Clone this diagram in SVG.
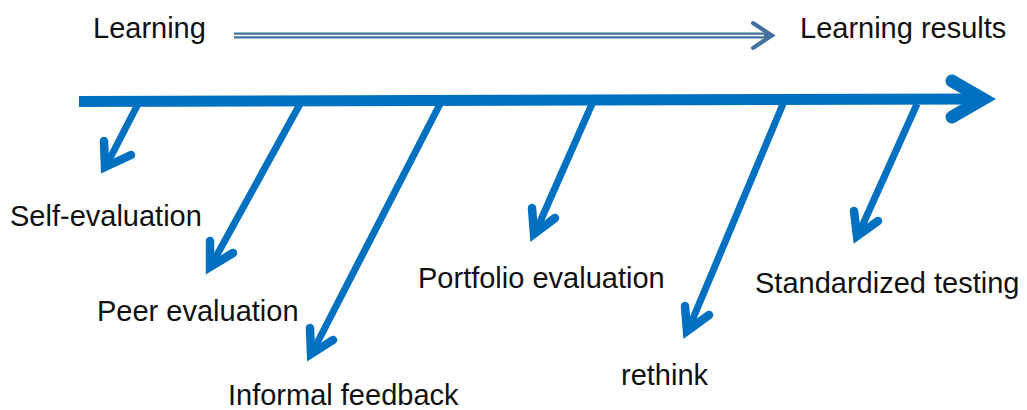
<svg xmlns="http://www.w3.org/2000/svg" width="1027" height="410" viewBox="0 0 1027 410">
  <style>
    .lbl { font-family: "Liberation Sans", Arial, sans-serif; font-size: 29px; fill: #111; }
    .spine { stroke: #0070C0; stroke-width: 11; fill: none; }
    .spine-head { stroke: #0070C0; stroke-width: 13; fill: none; stroke-linecap: round; stroke-linejoin: miter; stroke-miterlimit: 10; }
    .bone { stroke: #0070C0; stroke-width: 7; fill: none; }
    .bone-head { stroke: #0070C0; stroke-width: 8.5; fill: none; stroke-linecap: round; stroke-linejoin: miter; stroke-miterlimit: 10; }
    .flow { stroke: #41719C; fill: none; }
  </style>
  <rect width="1027" height="410" fill="#ffffff"/>

  <!-- Learning → Learning results -->
  <g id="flow-arrow">
    <line class="flow" x1="234" y1="35.5" x2="768" y2="35.5" stroke-width="6"/>
    <line x1="234" y1="35.5" x2="764" y2="35.5" stroke="#ffffff" stroke-width="1.6"/>
    <polyline class="flow" points="753,23 772,35.5 753,48" stroke-width="4" stroke-linecap="round" stroke-linejoin="miter"/>
  </g>

  <g id="connectors">
    <!-- main spine -->
    <line class="spine" x1="79" y1="101.5" x2="980" y2="99"/>
    <polyline class="spine-head" points="952,81 983,99 952,117"/>

    <!-- branches -->
    <line class="bone" x1="138" y1="104" x2="107" y2="164"/>
    <polyline class="bone-head" points="104,141 105,167 131,155"/>

    <line class="bone" x1="300" y1="104" x2="212" y2="264"/>
    <polyline class="bone-head" points="210,241 210,267 233,253"/>

    <line class="bone" x1="440" y1="104" x2="313" y2="351"/>
    <polyline class="bone-head" points="310,328 311,354 333,340"/>

    <line class="bone" x1="592" y1="104" x2="536" y2="231"/>
    <polyline class="bone-head" points="532,208 534,234 555,218"/>

    <line class="bone" x1="783" y1="104" x2="689" y2="328"/>
    <polyline class="bone-head" points="685,306 687,331 709,315"/>

    <line class="bone" x1="917" y1="104" x2="859" y2="233"/>
    <polyline class="bone-head" points="854,211 857,236 878,221"/>
  </g>

  <g id="learning"><text class="lbl" x="93" y="38">Learning</text></g>
  <g id="learning-results"><text class="lbl" x="800" y="38">Learning results</text></g>
  <g id="self-evaluation"><text class="lbl" x="10" y="226">Self-evaluation</text></g>
  <g id="peer-evaluation"><text class="lbl" x="97" y="321">Peer evaluation</text></g>
  <g id="informal-feedback"><text class="lbl" x="228" y="405">Informal feedback</text></g>
  <g id="portfolio-evaluation"><text class="lbl" x="418" y="288">Portfolio evaluation</text></g>
  <g id="rethink"><text class="lbl" x="621" y="385">rethink</text></g>
  <g id="standardized-testing"><text class="lbl" x="755" y="293">Standardized testing</text></g>
</svg>
